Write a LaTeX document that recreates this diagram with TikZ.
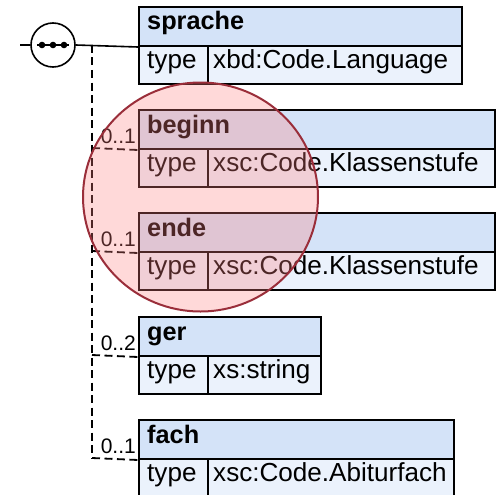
\documentclass[tikz,border=0pt]{standalone}
\usepackage{fontspec}
\setmainfont{Liberation Sans}
\usetikzlibrary{calc,shapes.geometric}
\definecolor{hdrblue}{HTML}{D4E3F8}
\definecolor{bodyblue}{HTML}{EBF2FC}
\definecolor{hlred}{HTML}{FF8080}
\definecolor{hledge}{HTML}{9A2E3A}
\begin{document}
\begin{tikzpicture}[x=1pt,y=-1pt,
  boxpart/.style={draw=black, line width=2pt, anchor=north west, inner sep=0pt},
  hdrbox/.style={boxpart, fill=hdrblue, minimum height=39pt},
  bodybox/.style={boxpart, fill=bodyblue, minimum height=38pt},
  hdrtxt/.style={anchor=base west, inner sep=0pt, font=\fontsize{25.3}{26}\selectfont\bfseries},
  bodytxt/.style={anchor=base west, inner sep=0pt, font=\fontsize{26.1}{27}\selectfont},
  cardtxt/.style={anchor=base east, inner sep=0pt, font=\fontsize{21}{22}\selectfont},
  dashline/.style={line width=1.8pt, dash pattern=on 8pt off 4.5pt},
]
\useasboundingbox (0,0) rectangle (495,495);

% element boxes
\newcommand{\elembox}[5]{%
  % #1 name, #2 top y, #3 right x, #4 title, #5 type value
  \node[hdrbox, minimum width={#3-138}] (#1h) at (138,#2) {};
  \node[bodybox, minimum width=69pt] (#1t) at (138,#2+39) {};
  \node[bodybox, minimum width={#3-207}] (#1v) at (207,#2+39) {};
  \node[hdrtxt] (#1ht) at (147,#2+24) {#4};
  \node[bodytxt] (#1tt) at (147,#2+62) {type};
  \node[bodytxt] (#1vt) at (213,#2+62) {#5};
}

\elembox{spr}{6}{461}{sprache}{xbd:Code.Language}
\elembox{beg}{109}{494}{beginn}{xsc:Code.Klassenstufe}
\elembox{end}{212}{494}{ende}{xsc:Code.Klassenstufe}
\elembox{ger}{316}{320}{ger}{xs:string}
\elembox{fac}{419}{453}{fach}{xsc:Code.Abiturfach}

% sequence symbol
\coordinate (lin) at (20,45);
\node[circle, draw=black, line width=1.6pt, fill=white, minimum size=44pt, inner sep=0pt] (seq) at (53,45) {};
\draw[line width=1.6pt] (lin) -- (seq.west);
\draw[line width=1.6pt] (seq.east) -- (sprh.south west);
\draw[line width=1.6pt] (37,45) -- (69,45);
\foreach \xx in {42,53,64} \fill (\xx,45) circle (3.3pt);

% dashed connectors
\coordinate (trunk) at (92,45);
\coordinate (jb) at (92,148);
\coordinate (je) at (92,251);
\coordinate (jg) at (92,355);
\coordinate (jf) at (92,458);
\draw[dashline] (trunk) -- (jf);
\draw[dashline] (jb) -- (begh.south west);
\draw[dashline] (je) -- (endh.south west);
\draw[dashline] (jg) -- (gerh.south west);
\draw[dashline] (jf) -- (fach.south west);

\node[cardtxt] (cb) at (136,143) {0..1};
\node[cardtxt] (ce) at (136,246) {0..1};
\node[cardtxt] (cg) at (136,350) {0..2};
\node[cardtxt] (cf) at (136,453) {0..1};

% highlight
\node[ellipse, draw=hledge, line width=2pt, fill=hlred, fill opacity=0.3, minimum width=235pt, minimum height=229pt, inner sep=0pt] (hl) at (200.5,197) {};
\end{tikzpicture}
\end{document}
